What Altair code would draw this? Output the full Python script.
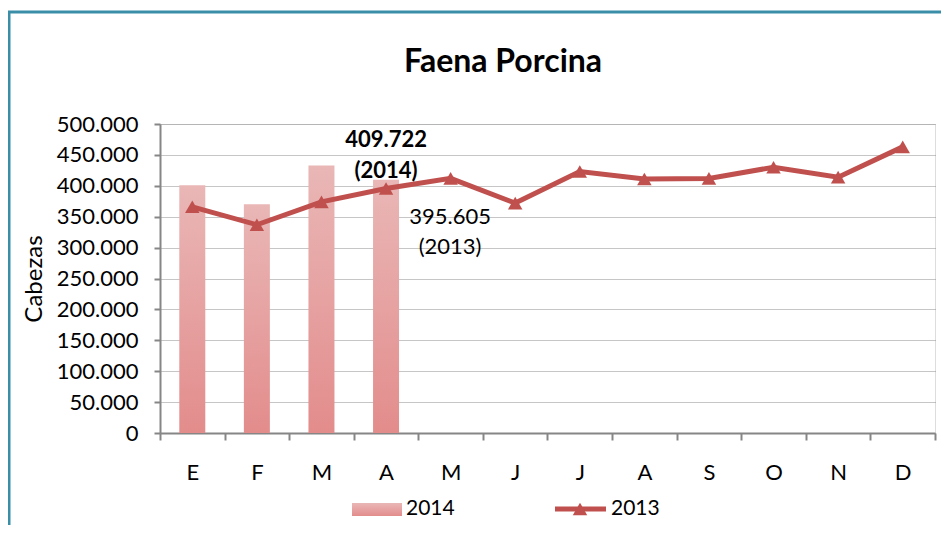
import altair as alt
import pandas as pd

months = ["E", "F", "M", "A", "M", "J", "J", "A", "S", "O", "N", "D"]
faena_2014 = [401000, 370000, 433000, 409722]
faena_2013 = [366000, 337000, 374000, 395605, 412000, 372000, 423000, 411000, 412000, 430000, 414000, 463000]
y_ticks = [0, 50000, 100000, 150000, 200000, 250000, 300000, 350000, 400000, 450000, 500000]
series = ["2014", "2013"]
chart_title = "Faena Porcina"

FONT = "Lato"
RED = "#c0504d"
GRAY = "#868686"


def fmt(v):
    return f"{v:,}".replace(",", ".")


df13 = pd.DataFrame({"idx": list(range(12)), "cabezas": faena_2013})
df14 = pd.DataFrame({"idx": list(range(4)), "cabezas": faena_2014})
ann14 = pd.DataFrame({"idx": [3], "cabezas": [faena_2014[3]],
                      "txt": [[fmt(faena_2014[3]), f"({series[0]})"]]})
ann13 = pd.DataFrame({"idx": [3], "cabezas": [faena_2013[3]],
                      "txt": [[fmt(faena_2013[3]), f"({series[1]})"]]})

label_expr = "[" + ",".join(f"'{m}'" for m in months) + "][datum.value]"

x_enc = alt.X(
    "idx:O",
    scale=alt.Scale(domain=list(range(12)), paddingInner=0, paddingOuter=0),
    axis=alt.Axis(
        title=None, labelExpr=label_expr, labelAngle=0, tickBand="extent",
        domainColor=GRAY, domainWidth=2, tickColor=GRAY, tickWidth=2, tickSize=7,
        labelPadding=22, labelFontSize=22, labelFont=FONT, labelColor="#000",
        grid=False,
    ),
)
y_enc = alt.Y(
    "cabezas:Q",
    scale=alt.Scale(domain=[0, 500000], nice=False, zero=True),
    axis=alt.Axis(
        title="Cabezas", titleFont=FONT, titleFontSize=24, titleFontWeight="normal",
        titleColor="#000", titlePadding=10,
        values=y_ticks,
        labelExpr="replace(format(datum.value, ','), ',', '.')",
        labelFont=FONT, labelFontSize=22, labelColor="#000", labelPadding=16,
        domainColor=GRAY, domainWidth=2, tickColor=GRAY, tickWidth=2, tickSize=6,
        grid=True, gridColor="#8c8c8c", gridDash=[1, 1], gridWidth=1,
    ),
)

grad = alt.Gradient(
    gradient="linear",
    stops=[alt.GradientStop(color="#e9b7b6", offset=0),
           alt.GradientStop(color="#e38c8c", offset=1)],
    x1=0, x2=0, y1=0, y2=1,
)

frame = alt.Chart(pd.DataFrame({"a": [0]})).mark_rect(
    fill=None, stroke="#3b8ea7", strokeWidth=3, clip=False
).encode(
    x=alt.value(-151), x2=alt.value(800), y=alt.value(-112), y2=alt.value(500)
)

title_mark = alt.Chart(pd.DataFrame({"t": [chart_title]})).mark_text(
    font=FONT, fontSize=32, fontWeight="bold", color="#000",
    align="center", baseline="middle"
).encode(x=alt.value(343), y=alt.value(-62), text="t")

bars = alt.Chart(df14).mark_bar(size=26, color=grad).encode(x=x_enc, y=y_enc)

line = alt.Chart(df13).mark_line(color=RED, strokeWidth=5).encode(x=x_enc, y=y_enc)
pts = alt.Chart(df13).mark_point(
    shape="triangle-up", filled=True, color=RED, size=210, opacity=1
).encode(x=x_enc, y=y_enc)

t14 = alt.Chart(ann14).mark_text(
    font=FONT, fontSize=22, fontWeight="bold", color="#000",
    baseline="alphabetic", lineHeight=31, dy=-33, align="center"
).encode(x=x_enc, y=y_enc, text="txt")
t13 = alt.Chart(ann13).mark_text(
    font=FONT, fontSize=22, color="#000",
    baseline="alphabetic", lineHeight=30, dy=35, dx=64, align="center"
).encode(x=x_enc, y=y_enc, text="txt")

# legend
leg_bar = alt.Chart(pd.DataFrame({"s": [series[0]]})).mark_rect(color=grad).encode(
    x=alt.value(192), x2=alt.value(242), y=alt.value(379), y2=alt.value(392)
)
leg_bar_t = alt.Chart(pd.DataFrame({"s": [series[0]]})).mark_text(
    font=FONT, fontSize=21, align="left", baseline="middle", color="#000"
).encode(x=alt.value(246), y=alt.value(385), text="s")
leg_line = alt.Chart(pd.DataFrame({"s": [series[1]]})).mark_rule(color=RED, strokeWidth=5).encode(
    x=alt.value(395), x2=alt.value(446), y=alt.value(385)
)
leg_pt = alt.Chart(pd.DataFrame({"s": [series[1]]})).mark_point(
    shape="triangle-up", filled=True, color=RED, size=210, opacity=1
).encode(x=alt.value(420), y=alt.value(385))
leg_line_t = alt.Chart(pd.DataFrame({"s": [series[1]]})).mark_text(
    font=FONT, fontSize=21, align="left", baseline="middle", color="#000"
).encode(x=alt.value(451), y=alt.value(385), text="s")

chart = alt.layer(
    frame, title_mark, bars, line, pts, t14, t13,
    leg_bar, leg_bar_t, leg_line, leg_pt, leg_line_t
).properties(
    width=775,
    height=309,
    autosize=alt.AutoSizeParams(type="none"),
    padding={"left": 152, "top": 116, "right": 6, "bottom": 92},
).configure_view(stroke=None).configure(background="white")

chart.save("out.html", embed_options={"renderer": "svg", "actions": False})
